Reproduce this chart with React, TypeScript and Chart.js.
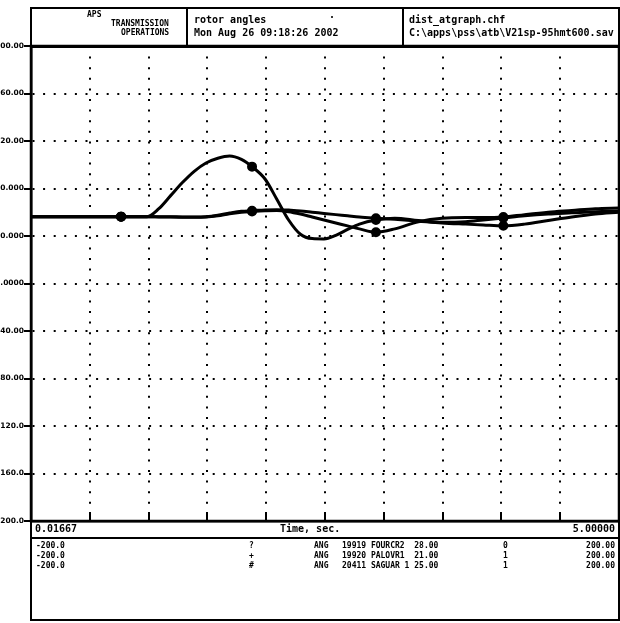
import React, { useEffect, useRef } from "react";
import { Chart, registerables } from "chart.js";
Chart.register(...registerables);

// ---- data ----
const timeSec = [0.01667, 0.78, 1.0, 1.1, 1.2, 1.3, 1.4, 1.5, 1.6, 1.7, 1.8, 1.89, 2.0, 2.1, 2.2, 2.3, 2.4, 2.5, 2.6, 2.7, 2.8, 2.94, 3.1, 3.3, 3.5, 3.7, 3.85, 4.02, 4.2, 4.4, 4.6, 4.8, 5.0];
const ang19919 = [56.3, 56.3, 56.3, 63, 74, 85, 94.5, 101.5, 105.5, 107.4, 104.5, 98.4, 88, 71, 53.5, 41.5, 37.8, 37.5, 40.5, 45.5, 50, 53.5, 55, 53, 51.5, 52, 53.5, 55.2, 57, 58.5, 59.5, 60.5, 61];
const ang19920 = [56.3, 56.3, 56.3, 56.3, 56.2, 56.1, 56, 56.3, 57.5, 59.3, 60.8, 61.3, 62, 62.2, 61.8, 61, 60, 59, 58, 57, 56, 55, 54, 52.5, 51, 50, 49.3, 48.6, 50, 53, 56, 58.5, 60];
const ang20411 = [56.3, 56.3, 56.3, 56.1, 55.9, 55.8, 55.7, 55.9, 57, 58.8, 60, 60.6, 61.2, 61.5, 60.5, 58.5, 56, 53.5, 51, 48.5, 46, 43.2, 46, 52, 55, 55.5, 55.5, 56, 58, 60, 61.5, 63, 63.6];
const markerTimes = [0.78, 1.89, 2.94, 4.02];

const xGridTicks = [0.01667, 0.515, 1.01333, 1.51167, 2.01, 2.50833, 3.00667, 3.505, 4.00333, 4.50167, 5.0];
const yTickValues = [-200, -160, -120, -80, -40, 0, 40, 80, 120, 160, 200];
const yTickLabels = ["-200.0", "-160.0", "-120.0", "-80.00", "-40.00", "0.0000", "40.000", "80.000", "120.00", "160.00", "200.00"];

const headerCol1 = ["APS", "TRANSMISSION", "OPERATIONS"];
const headerCol2 = ["rotor angles", "Mon Aug 26 09:18:26 2002"];
const headerCol3 = ["dist_atgraph.chf", "C:\\apps\\pss\\atb\\V21sp-95hmt600.sav"];
const xRangeLabels = ["0.01667", "Time, sec.", "5.00000"];
const chanMin = ["-200.0", "-200.0", "-200.0"];
const chanSymbol = ["?", "+", "#"];
const chanType = ["ANG", "ANG", "ANG"];
const chanName = ["19919 FOURCR2  28.00", "19920 PALOVR1  21.00", "20411 SAGUAR 1 25.00"];
const chanFlag = ["0", "1", "1"];
const chanMax = ["200.00", "200.00", "200.00"];

const FONT = "'DejaVu Sans Mono', monospace";

const framePlugin = {
  id: "frame",
  afterDraw(chart: any) {
    const { ctx, chartArea } = chart;
    const xs = chart.scales.x;
    ctx.save();
    ctx.strokeStyle = "#000";
    ctx.lineWidth = 2.5;
    ctx.strokeRect(chartArea.left, chartArea.top, chartArea.right - chartArea.left, chartArea.bottom - chartArea.top);
    ctx.lineWidth = 2;
    xGridTicks.slice(1, -1).forEach((v) => {
      const px = Math.round(xs.getPixelForValue(v));
      ctx.beginPath();
      ctx.moveTo(px, chartArea.bottom - 9);
      ctx.lineTo(px, chartArea.bottom);
      ctx.stroke();
    });
    ctx.restore();
  },
};

function ChartCanvas() {
  const ref = useRef<HTMLCanvasElement | null>(null);
  useEffect(() => {
    if (!ref.current) return;
    const mk = (vals: number[]) => timeSec.map((t, i) => ({ x: t, y: vals[i] }));
    const ds = (label: string, vals: number[]) => ({
      label,
      data: mk(vals),
      borderColor: "#000",
      borderWidth: 3,
      cubicInterpolationMode: "monotone" as const,
      pointRadius: (c: any) => (markerTimes.includes(timeSec[c.dataIndex]) ? 3.5 : 0),
      pointBackgroundColor: "#000",
      pointBorderColor: "#000",
      fill: false,
    });
    const chart = new Chart(ref.current, {
      type: "line",
      data: {
        datasets: [ds(chanName[0], ang19919), ds(chanName[1], ang19920), ds(chanName[2], ang20411)],
      },
      options: {
        animation: false,
        responsive: false,
        maintainAspectRatio: false,
        layout: { padding: { top: 46, right: 1, left: 0, bottom: 0 } },
        plugins: { legend: { display: false }, tooltip: { enabled: false } },
        scales: {
          x: {
            type: "linear",
            min: 0.01667,
            max: 5.0,
            afterBuildTicks: (s: any) => {
              s.ticks = xGridTicks.map((v) => ({ value: v }));
            },
            afterFit: (s: any) => {
              s.height = 102;
            },
            ticks: { display: false },
            grid: { color: "#000", lineWidth: 2, drawTicks: false },
            border: { display: true, color: "#000", width: 2.5, dash: [2, 8.6] },
          },
          y: {
            min: -200,
            max: 200,
            afterBuildTicks: (s: any) => {
              s.ticks = yTickValues.map((v) => ({ value: v }));
            },
            afterFit: (s: any) => {
              s.width = 31;
            },
            ticks: {
              padding: 0,
              color: "#000",
              font: { family: "DejaVu Sans", size: 7.5, weight: "bold" },
              callback: (_v: any, i: number) => yTickLabels[i],
            },
            grid: { color: "#000", lineWidth: 2, tickLength: 7, tickWidth: 2, tickColor: "#000", tickBorderDash: [] },
            border: { display: true, color: "#000", width: 2.5, dash: [2, 8.6] },
          },
        },
      },
      plugins: [framePlugin],
    });
    return () => chart.destroy();
  }, []);
  return <canvas ref={ref} width={620} height={623} style={{ position: "absolute", left: 0, top: 0 }} />;
}

const T = (p: { l: number; t: number; s?: number; children: any; right?: boolean }) => (
  <div
    style={{
      position: "absolute",
      left: p.right ? undefined : p.l,
      right: p.right ? 620 - p.l : undefined,
      top: p.t,
      font: `bold ${p.s || 9}px ${FONT}`,
      lineHeight: 1,
      whiteSpace: "pre",
      color: "#000",
    }}
  >
    {p.children}
  </div>
);

const Box = (p: { l: number; t: number; w: number; h: number }) => (
  <div
    style={{
      position: "absolute",
      left: p.l,
      top: p.t,
      width: p.w,
      height: p.h,
      border: "2px solid #000",
      boxSizing: "border-box",
    }}
  />
);

export default function App() {
  const rows = [0, 1, 2];
  return (
    <div style={{ position: "absolute", left: 0, top: 0, width: 620, height: 623, background: "#fff", overflow: "hidden" }}>
      <ChartCanvas />
      {/* header */}
      <Box l={30} t={7} w={590} h={41} />
      <div style={{ position: "absolute", left: 186, top: 7, width: 2, height: 40, background: "#000" }} />
      <div style={{ position: "absolute", left: 402, top: 7, width: 2, height: 40, background: "#000" }} />
      <T l={87} t={11} s={8}>{headerCol1[0]}</T>
      <T l={111} t={20} s={8}>{headerCol1[1]}</T>
      <T l={121} t={29} s={8}>{headerCol1[2]}</T>
      <T l={194} t={15} s={10}>{headerCol2[0]}</T>
      <T l={329} t={10} s={10}>.</T>
      <T l={194} t={28} s={10}>{headerCol2[1]}</T>
      <T l={409} t={15} s={10}>{headerCol3[0]}</T>
      <T l={409} t={28} s={10}>{headerCol3[1]}</T>
      {/* x range row */}
      <Box l={30} t={520} w={590} h={19} />
      <T l={35} t={524} s={10}>{xRangeLabels[0]}</T>
      <T l={280} t={524} s={10}>{xRangeLabels[1]}</T>
      <T l={615} t={524} s={10} right>{xRangeLabels[2]}</T>
      {/* channel legend */}
      <Box l={30} t={537} w={590} h={84} />
      {rows.map((i) => (
        <React.Fragment key={i}>
          <T l={36} t={542 + i * 10} s={8}>{chanMin[i]}</T>
          <T l={249} t={542 + i * 10} s={8}>{chanSymbol[i]}</T>
          <T l={314} t={542 + i * 10} s={8}>{chanType[i]}</T>
          <T l={342} t={542 + i * 10} s={8}>{chanName[i]}</T>
          <T l={503} t={542 + i * 10} s={8}>{chanFlag[i]}</T>
          <T l={615} t={542 + i * 10} s={8} right>{chanMax[i]}</T>
        </React.Fragment>
      ))}
    </div>
  );
}
